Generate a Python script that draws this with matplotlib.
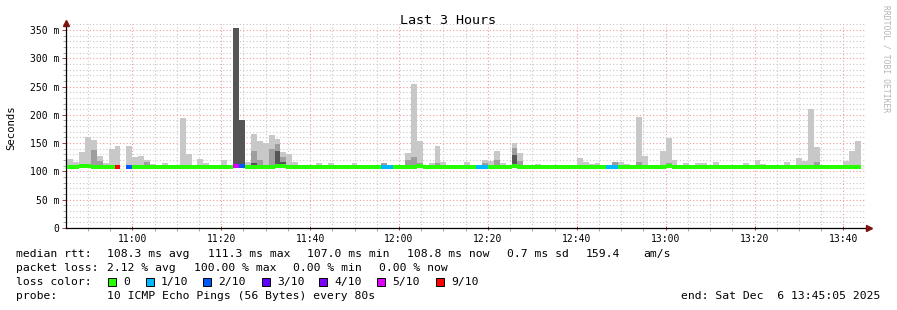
import numpy as np
import matplotlib.pyplot as plt
from matplotlib.patches import Rectangle
from matplotlib.ticker import MultipleLocator, FuncFormatter

plt.rcParams['font.family'] = ['DejaVu Sans Mono', 'DejaVu Sans']

nan = np.nan

# time axis, minutes of the day
start_min = 10 * 60 + 45 + 5 / 60      # 10:45:05
end_min = start_min + 180              # 13:45:05
first_bin = 10 * 60 + 45 + 20 / 60     # first 80 s step
step_min = 80 / 60

# median rtt per 80 s step (ms), nan = no answer
median = [
    107, 108, 109.5, 109.5, 108.5, 108.5, 108.5, 108.5, 107, nan,
    108, 108.5, 107.5, 107.5, 107.5, 107.5, 107.5, 107.5, 107, 108.5,
    108.5, 107, 108.5, 108.5, 107.5, 107.5, 107.5, 107.5, 110, 109,
    108, 108.5, 107.5, 107.5, 108.5, 109.5, 109, 108, 108.5, 108.5,
    107.5, 107.5, 108, 108, 108, 108, 107.5, 107.5, 108, 108,
    108, 108, 108, 107, 107, 108, 108, 108.5, 108.5, 109,
    108, 107.5, 108, 108.5, 108, 108, 107.5, 108, 108, 107.5,
    107.5, 108, 108, 108, 107.5, 109, 108, 107.5, 108, 108,
    108, 108, 108, 108, 108, 108.5, 108.5, 107.5, 107.5, 108,
    108, 107.5, 107.5, 108, 107.5, 108, 108, 108, 108, 108,
    108, 109, 108.5, 108, 108, 108, 108, 108, 108, 107.5,
    108, 108, 108, 108, 108, 108, 108, 108, 107.5, 108,
    108, 108, 108, 108, 108, 108, 108, 108, 107.5, 108,
    108, 108, 108, 108.5,
]

# highest ping of each step (light smoke)
smoke_top = [
    122, 117, 134, 160, 156, 128, 114, 140, 145, nan,
    145, 125, 128, 120, 113, 110, 115, 112, 110, 194,
    131, 110, 122, 114, 110, 112, 120, 110, 353, 190,
    117, 166, 154, 150, 164, 157, 134, 131, 117, 110,
    110, 110, 115, 110, 115, 110, 110, 110, 115, 112,
    112, 110, 110, 115, 112, 110, 110, 132, 254, 154,
    110, 115, 145, 117, 110, 112, 112, 117, 110, 110,
    120, 118, 136, 115, 110, 150, 133, 110, 112, 113,
    112, 110, 110, 110, 110, 110, 124, 117, 113, 115,
    110, 110, 117, 117, 113, 110, 196, 127, 112, 110,
    136, 159, 120, 110, 115, 110, 115, 115, 112, 117,
    110, 110, 110, 110, 115, 110, 121, 113, 110, 112,
    110, 117, 110, 124, 118, 210, 143, 112, 108, 110,
    112, 118, 136, 154,
]

# inner pings (medium smoke)
smoke_mid = [
    nan, nan, nan, nan, 138, 119, nan, nan, nan, nan,
    nan, nan, nan, 116, nan, nan, nan, nan, nan, 112,
    nan, nan, nan, nan, nan, nan, nan, nan, nan, nan,
    nan, 136, 120, 112, 140, 148, 126, nan, nan, nan,
    nan, nan, nan, nan, nan, nan, nan, nan, nan, nan,
    nan, nan, nan, 115, nan, nan, nan, 121, 125, 115,
    nan, nan, 115, nan, nan, nan, nan, nan, nan, nan,
    115, nan, 120, nan, nan, 141, 118, nan, nan, nan,
    nan, nan, nan, nan, nan, nan, nan, nan, nan, nan,
    nan, nan, 117, nan, nan, nan, 117, nan, nan, nan,
    nan, 115, nan, nan, nan, nan, nan, nan, nan, nan,
    nan, nan, nan, nan, nan, nan, 112, nan, nan, nan,
    nan, nan, nan, nan, nan, 112, 117, nan, nan, nan,
    nan, nan, 112, nan,
]

# pings close to the median (dark smoke)
smoke_dark = [nan] * 134
for i, v in [(28, 353), (29, 190), (31, 115), (35, 136), (36, 117), (75, 129)]:
    smoke_dark[i] = v

# lost pings out of 10 per step
loss = [0] * 134
for i, v in [(8, 9), (9, 10), (10, 2), (28, 5), (29, 2), (53, 1), (54, 1),
             (69, 1), (70, 1), (91, 1), (92, 1)]:
    loss[i] = v

loss_levels = [0, 1, 2, 3, 4, 5, 9]
loss_labels = ['0', '1/10', '2/10', '3/10', '4/10', '5/10', '9/10']
loss_colors = ['#26ff00', '#00b8ff', '#0059ff', '#5e00ff', '#7e00ff', '#dd00ff', '#ff0000']


def loss_color(n):
    c = loss_colors[0]
    for lvl, col in zip(loss_levels, loss_colors):
        if n >= lvl:
            c = col
    return c


W, H = 897, 310
fig = plt.figure(figsize=(W / 100, H / 100), dpi=100)
ax = fig.add_axes([66 / W, (H - 228) / H, 800 / W, (228 - 24.3) / H])

med = np.array(median, dtype=float)
left = first_bin + np.arange(len(med)) * step_min

for vals, col in [(smoke_top, '#c8c8c8'), (smoke_mid, '#9e9e9e'), (smoke_dark, '#555555')]:
    v = np.array(vals, dtype=float)
    ok = ~np.isnan(v) & ~np.isnan(med)
    ax.bar(left[ok], v[ok] - (med[ok] - 2), bottom=med[ok] - 2, width=step_min,
           align='edge', color=col, linewidth=0, zorder=2)

ok = ~np.isnan(med)
ax.hlines(med[ok], left[ok], left[ok] + step_min,
          colors=[loss_color(loss[i]) for i in np.where(ok)[0]],
          linewidth=2.9, zorder=3, capstyle='butt')

ax.set_xlim(start_min, end_min)
ax.set_ylim(0, 360)

ax.xaxis.set_major_locator(MultipleLocator(20))
ax.xaxis.set_minor_locator(MultipleLocator(5))
ax.yaxis.set_major_locator(MultipleLocator(50))
ax.yaxis.set_minor_locator(MultipleLocator(10))
ax.xaxis.set_major_formatter(FuncFormatter(lambda v, p: '%02d:%02d' % (int(round(v)) // 60, int(round(v)) % 60)))
ax.yaxis.set_major_formatter(FuncFormatter(lambda v, p: '0' if v == 0 else '%d m' % v))

ax.grid(which='minor', color='#c8c8c8', linestyle=(0, (1, 2)), linewidth=0.8, zorder=0)
ax.grid(which='major', color='#f09a9a', linestyle=(0, (1, 2)), linewidth=0.8, zorder=1)
ax.set_axisbelow(True)

ax.tick_params(which='major', length=3, width=0.7, labelsize=7, pad=2, color='#a04040')
ax.tick_params(which='minor', length=2, width=0.6, color='#999999')
ax.tick_params(axis='x', direction='inout', pad=3)
for s in ['top', 'right']:
    ax.spines[s].set_visible(False)
for s in ['left', 'bottom']:
    ax.spines[s].set_color('black')
    ax.spines[s].set_linewidth(0.9)
ax.plot(1.004, 0, marker='>', color='#7f1010', markersize=4, transform=ax.transAxes, clip_on=False, zorder=5)
ax.plot(0, 1.005, marker='^', color='#7f1010', markersize=4, transform=ax.transAxes, clip_on=False, zorder=5)


def ftext(px, py, s, **kw):
    kw.setdefault('fontsize', 8.2)
    kw.setdefault('va', 'center')
    fig.text(px / W, 1 - py / H, s, **kw)


ftext(448, 20, 'Last 3 Hours', ha='center', fontsize=9.6)
ftext(11, 128, 'Seconds', ha='center', rotation=90, fontsize=7.7)
ftext(886, 5, 'RRDTOOL / TOBI OETIKER', ha='center', va='top', rotation=-90, fontsize=5.8, color='#b4b4b4')

# legend rows
y1, y2, y3, y4 = 254.3, 268.3, 282.3, 296
ftext(16, y1, 'median rtt:')
for px, s in [(107, '108.3 ms avg'), (208, '111.3 ms max'), (307, '107.0 ms min'),
              (407, '108.8 ms now'), (507, '0.7 ms sd'), (586, '159.4'), (643, 'am/s')]:
    ftext(px, y1, s)
ftext(16, y2, 'packet loss:')
for px, s in [(107, '2.12 % avg'), (194, '100.00 % max'), (293, '0.00 % min'), (379, '0.00 % now')]:
    ftext(px, y2, s)
ftext(16, y3, 'loss color:')
box_x = [108, 146, 203, 262, 319, 377, 436]
for bx, lab, col in zip(box_x, loss_labels, loss_colors):
    fig.patches.append(Rectangle((bx / W, 1 - (y3 + 4) / H), 8 / W, 8 / H, transform=fig.transFigure,
                                 facecolor=col, edgecolor='black', linewidth=0.7))
    ftext(bx + 15, y3, lab)
ftext(16, y4, 'probe:')
ftext(107, y4, '10 ICMP Echo Pings (56 Bytes) every 80s')
ftext(880, y4, 'end: Sat Dec  6 13:45:05 2025', ha='right')

fig.savefig('out.png', dpi=100, facecolor='white')
